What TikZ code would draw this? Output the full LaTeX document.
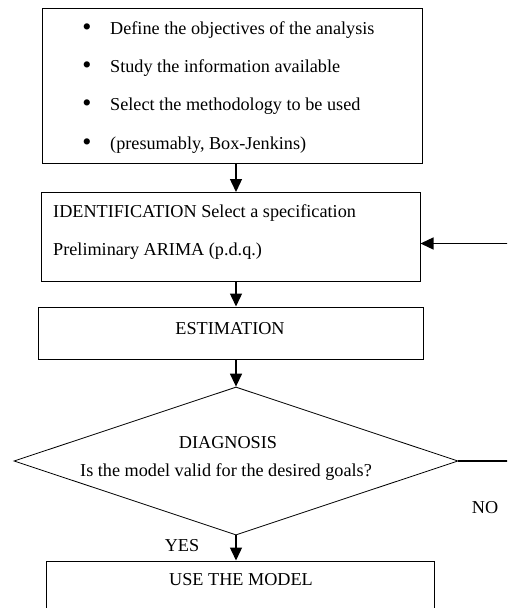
\documentclass[tikz,border=0pt]{standalone}
\usepackage{fontspec}
\setmainfont{Liberation Serif}
\usetikzlibrary{shapes.geometric,arrows.meta}

\tikzset{
	box/.style={draw, line width=1pt, inner sep=0pt},
	flow/.style={line width=1.4pt, -{Triangle[width=12pt,length=13pt]}},
	txt/.style={inner sep=0pt, font=\fontsize{18.2}{22}\selectfont},
}

\begin{document}
\begin{tikzpicture}[x=1pt,y=-1pt]

	\clip (0,0) rectangle (507,608);

	% Riquadro iniziale con i punti elenco
	\node[box, minimum width=380pt, minimum height=155pt] (prep) at (232,85.5) {};
	\foreach \y/\t in {30/Define the objectives of the analysis,
		68/Study the information available,
		106/Select the methodology to be used,
		145/{(presumably, Box-Jenkins)}} {
		\node[txt, font=\fontsize{26}{26}\selectfont] (dot\y) at (87,\y) {\textbullet};
		\node[txt, anchor=west] (line\y) at (110,\y) {\t};
	}

	% Identificazione
	\node[box, minimum width=379pt, minimum height=89pt] (ident) at (230.5,236.5) {};
	\node[txt, anchor=west] (id1) at (53,213) {IDENTIFICATION Select a specification};
	\node[txt, anchor=west] (id2) at (53,251) {Preliminary ARIMA (p.d.q.)};

	% Stima
	\node[box, minimum width=385pt, minimum height=52pt] (estim) at (230.5,333) {};
	\node[txt] (est) at (230,329) {ESTIMATION};

	% Rombo della diagnosi
	\node[draw, line width=0.8pt, shape=diamond, inner sep=0pt,
		minimum width=444pt, minimum height=148pt] (diag) at (236,461) {};
	\node[txt] (dg1) at (228,443) {DIAGNOSIS};
	\node[txt] (dg2) at (226,472) {Is the model valid for the desired goals?};

	% Uso del modello
	\node[box, minimum width=388pt, minimum height=80pt] (use) at (240,601) {};
	\node[txt] (usetxt) at (241,580) {USE THE MODEL};

	\node[txt] (yes) at (182,546) {YES};
	\node[txt] (no) at (485,508) {NO};

	% Frecce
	\draw[flow] (236,163) -- (236,192);
	\draw[flow] (ident.south -| 236,0) -- (estim.north -| 236,0);
	\draw[flow] (estim.south -| 236,0) -- (diag.north);
	\draw[flow] (diag.south) -- (use.north -| diag.south);

	% Ritorno a destra (NO)
	\coordinate (back) at ([yshift=-7pt]ident.east);
	\draw[flow] (diag.east) -- ++(60,0) |- (back);

\end{tikzpicture}
\end{document}
